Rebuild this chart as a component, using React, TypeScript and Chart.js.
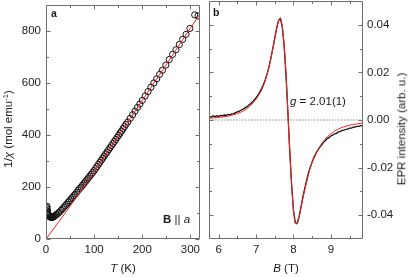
import React, { useEffect, useRef } from "react";
import { Chart, registerables } from "chart.js";
Chart.register(...registerables);

// ---------- Panel a: inverse susceptibility ----------
const tempK = [1.8, 2.0, 2.3, 2.7, 3.2, 3.8, 4.5, 5.3, 6.2, 7.2, 8.3, 9.5, 10.8, 12.2, 13.7, 15.3, 17, 19, 21, 23, 25.5, 28, 31, 34, 37, 40, 43, 46, 49, 52, 55, 58, 61, 64, 67, 70, 73, 76, 79, 82, 85, 88, 91, 94, 97, 100, 103, 106, 109, 112, 115, 118, 121, 124, 127, 130, 133, 136, 139, 142, 145, 148, 151, 154, 157, 160, 163, 166, 170, 175, 180, 185, 190, 195, 200, 206, 212, 218, 224, 230, 236, 242, 249, 256, 263, 270, 277, 284, 291, 299, 309, 316];
const invChi = [126, 121, 115, 109, 104, 99, 95, 92, 89, 87, 85, 84, 83, 83, 84, 85, 87, 90, 93, 96, 100, 104, 110, 116, 122, 128, 134, 141, 147, 154, 160, 167, 173, 180, 187, 194, 200, 207, 214, 221, 228, 235, 242, 249, 256, 263, 271, 279, 287, 295, 303, 311, 319, 327, 335, 343, 351, 359, 367, 375, 383, 391, 399, 407, 415, 424, 432, 441, 450, 464, 478, 492, 506, 519, 533, 550, 567, 584, 600, 616, 633, 649, 669, 690, 710, 728, 748, 768, 787, 810, 862, 858];
const fitTempK = [0, 25, 50, 75, 100, 125, 150, 175, 200, 225, 250, 275, 300, 320];
const fitInvChi = [0, 62, 126, 191, 258, 326, 395, 464, 533, 602, 671, 741, 811, 866];
const tTicks = [0, 100, 200, 300];
const tMinorTicks = [50, 150, 250];
const invChiTicks = [0, 200, 400, 600, 800];
const invChiMinorTicks = [100, 300, 500, 700];

// ---------- Panel b: EPR spectrum ----------
const fieldT = [5.75, 5.8, 5.85, 5.9, 5.95, 6.0, 6.05, 6.1, 6.15, 6.2, 6.25, 6.3, 6.35, 6.4, 6.45, 6.5, 6.55, 6.6, 6.65, 6.7, 6.75, 6.8, 6.85, 6.9, 6.95, 7.0, 7.05, 7.1, 7.15, 7.2, 7.25, 7.3, 7.35, 7.4, 7.45, 7.5, 7.55, 7.6, 7.65, 7.7, 7.75, 7.8, 7.85, 7.9, 7.95, 8.0, 8.05, 8.1, 8.15, 8.2, 8.25, 8.3, 8.35, 8.4, 8.45, 8.5, 8.55, 8.6, 8.65, 8.7, 8.75, 8.8, 8.85, 8.9, 8.95, 9.0, 9.05, 9.1, 9.15, 9.2, 9.25, 9.3, 9.35, 9.4, 9.45, 9.5, 9.55, 9.6, 9.65, 9.7, 9.75, 9.8, 9.85];
const eprSignal = [0.0015, 0.0012, 0.0017, 0.0014, 0.0018, 0.0015, 0.0019, 0.0017, 0.0021, 0.0019, 0.0023, 0.0022, 0.0026, 0.0027, 0.0031, 0.0034, 0.0037, 0.0042, 0.0045, 0.0051, 0.0055, 0.0062, 0.0068, 0.0076, 0.0084, 0.0094, 0.0105, 0.0118, 0.0133, 0.015, 0.0171, 0.0197, 0.0227, 0.0263, 0.0303, 0.0345, 0.0385, 0.0418, 0.0426, 0.0391, 0.0311, 0.019, 0.0034, -0.013, -0.027, -0.038, -0.0432, -0.0434, -0.0407, -0.0366, -0.0324, -0.0288, -0.0255, -0.0222, -0.0198, -0.0176, -0.0157, -0.014, -0.0127, -0.0115, -0.0105, -0.0094, -0.0087, -0.0078, -0.0074, -0.0067, -0.0064, -0.0058, -0.0056, -0.005, -0.0049, -0.0044, -0.0043, -0.0039, -0.0038, -0.0034, -0.0034, -0.003, -0.003, -0.0027, -0.0027, -0.0024, -0.0024];
const fitFieldT = [5.74, 5.9, 6.1, 6.3, 6.5, 6.7, 6.85, 7.0, 7.1, 7.2, 7.3, 7.4, 7.48, 7.55, 7.6, 7.63, 7.66, 7.7, 7.75, 7.8, 7.85, 7.9, 7.95, 8.0, 8.04, 8.08, 8.12, 8.18, 8.25, 8.35, 8.45, 8.55, 8.7, 8.85, 9.0, 9.2, 9.4, 9.6, 9.86];
const fitEpr = [0.0007, 0.0009, 0.0013, 0.0018, 0.0027, 0.0042, 0.006, 0.0088, 0.0112, 0.0146, 0.0195, 0.0262, 0.0328, 0.0385, 0.0416, 0.0427, 0.0423, 0.0393, 0.0313, 0.0192, 0.0035, -0.0128, -0.0268, -0.0378, -0.0428, -0.0438, -0.0425, -0.0385, -0.033, -0.0262, -0.02, -0.016, -0.0113, -0.008, -0.0058, -0.0038, -0.0026, -0.0019, -0.0012];
const bTicks = [6, 7, 8, 9];
const bMinorTicks = [6.5, 7.5, 8.5, 9.5];
const eprTicks = [-0.04, -0.02, 0, 0.02, 0.04];
const eprMinorTicks = [-0.03, -0.01, 0.01, 0.03];

const FONT = "'Liberation Sans', Arial, Helvetica, sans-serif";
const FRAME = "#6e6e6e";

const framePlugin = {
  id: "frameTicks",
  afterDatasetsDraw(chart: any, _args: any, opts: any) {
    const { ctx, chartArea, scales } = chart;
    const { left, right, top, bottom } = chartArea;
    const xs = scales.x;
    const ys = scales.y;
    const L = Math.round(left) + 0.5;
    const R = Math.round(right) - 0.5;
    const T = Math.round(top) + 0.5;
    const B = Math.round(bottom) - 0.5;
    ctx.save();
    ctx.strokeStyle = FRAME;
    ctx.lineWidth = 1;
    ctx.beginPath();
    ctx.rect(L, T, R - L, B - T);
    const drawX = (vals: number[], len: number) => {
      vals.forEach((v) => {
        const px = Math.round(xs.getPixelForValue(v)) + 0.5;
        ctx.moveTo(px, B);
        ctx.lineTo(px, B - len);
        ctx.moveTo(px, T);
        ctx.lineTo(px, T + len);
      });
    };
    const drawY = (vals: number[], len: number) => {
      vals.forEach((v) => {
        const py = Math.round(ys.getPixelForValue(v)) + 0.5;
        ctx.moveTo(L, py);
        ctx.lineTo(L + len, py);
        ctx.moveTo(R, py);
        ctx.lineTo(R - len, py);
      });
    };
    drawX(opts.xMajor, 4);
    drawX(opts.xMinor, 2.5);
    drawY(opts.yMajor, 4);
    drawY(opts.yMinor, 2.5);
    ctx.stroke();
    ctx.restore();
  },
};

const tickFont = { family: FONT, size: 11.5 };

const zeroPad = (s: any) => {
  s.paddingTop = 0;
  s.paddingBottom = 0;
  s.paddingLeft = 0;
  s.paddingRight = 0;
};

function PanelA() {
  const ref = useRef<HTMLCanvasElement>(null);
  useEffect(() => {
    if (!ref.current) return;
    const chart = new Chart(ref.current, {
      type: "scatter",
      data: {
        datasets: [
          {
            label: "fit",
            data: fitTempK.map((t, i) => ({ x: t, y: fitInvChi[i] })),
            showLine: true,
            borderColor: "#ff2020",
            borderWidth: 1,
            pointRadius: 0,
            cubicInterpolationMode: "monotone",
            order: 0,
          },
          {
            label: "data",
            data: tempK.map((t, i) => ({ x: t, y: invChi[i] })),
            showLine: false,
            pointStyle: "circle",
            pointRadius: 3.1,
            pointBorderWidth: 1,
            pointBorderColor: "#111",
            pointBackgroundColor: "rgba(0,0,0,0)",
            order: 1,
          },
        ],
      },
      options: {
        responsive: false,
        animation: false,
        events: [],
        layout: { padding: { top: 1, right: 5, left: 0, bottom: 0 } },
        plugins: {
          legend: { display: false },
          tooltip: { enabled: false },
          frameTicks: { xMajor: tTicks, xMinor: tMinorTicks, yMajor: invChiTicks, yMinor: invChiMinorTicks },
        } as any,
        scales: {
          x: {
            type: "linear",
            min: 0,
            max: 320,
            grid: { display: false, drawTicks: false, tickLength: 0 },
            border: { display: false },
            ticks: { font: tickFont, color: "#222", padding: 4, maxRotation: 0 },
            afterBuildTicks: (s: any) => { s.ticks = tTicks.map((v) => ({ value: v })); },
            afterFit: (s: any) => { s.height = 38; zeroPad(s); },
          },
          y: {
            type: "linear",
            min: 0,
            max: 900,
            grid: { display: false, drawTicks: false, tickLength: 0 },
            border: { display: false },
            ticks: { font: tickFont, color: "#222", padding: 5 },
            afterBuildTicks: (s: any) => { s.ticks = invChiTicks.map((v) => ({ value: v })); },
            afterFit: (s: any) => { s.width = 46; zeroPad(s); },
          },
        },
      },
      plugins: [framePlugin],
    });
    return () => chart.destroy();
  }, []);
  return <canvas ref={ref} width={205} height={277} style={{ position: "absolute", left: 0, top: 0 }} />;
}

function PanelB() {
  const ref = useRef<HTMLCanvasElement>(null);
  useEffect(() => {
    if (!ref.current) return;
    const chart = new Chart(ref.current, {
      type: "scatter",
      data: {
        datasets: [
          {
            label: "zero",
            data: [{ x: 5.74, y: 0 }, { x: 9.86, y: 0 }],
            showLine: true,
            borderColor: "#8a8a8a",
            borderWidth: 1,
            borderDash: [1.5, 1.5],
            pointRadius: 0,
            order: 3,
          },
          {
            label: "data",
            data: fieldT.map((b, i) => ({ x: b, y: eprSignal[i] })),
            showLine: true,
            borderColor: "#111",
            borderWidth: 1.3,
            pointRadius: 0,
            order: 2,
          },
          {
            label: "fit",
            data: fitFieldT.map((b, i) => ({ x: b, y: fitEpr[i] })),
            showLine: true,
            borderColor: "#ff2020",
            borderWidth: 1,
            pointRadius: 0,
            cubicInterpolationMode: "monotone",
            order: 1,
          },
        ],
      },
      options: {
        responsive: false,
        animation: false,
        events: [],
        layout: { padding: { top: 1, right: 0, left: 4, bottom: 0 } },
        plugins: {
          legend: { display: false },
          tooltip: { enabled: false },
          frameTicks: { xMajor: bTicks, xMinor: bMinorTicks, yMajor: eprTicks, yMinor: eprMinorTicks },
        } as any,
        scales: {
          x: {
            type: "linear",
            min: 5.74,
            max: 9.86,
            grid: { display: false, drawTicks: false, tickLength: 0 },
            border: { display: false },
            ticks: { font: tickFont, color: "#222", padding: 4, maxRotation: 0 },
            afterBuildTicks: (s: any) => { s.ticks = bTicks.map((v) => ({ value: v })); },
            afterFit: (s: any) => { s.height = 38; zeroPad(s); },
          },
          y: {
            type: "linear",
            position: "right",
            min: -0.05,
            max: 0.05,
            grid: { display: false, drawTicks: false, tickLength: 0 },
            border: { display: false },
            ticks: {
              font: tickFont,
              color: "#222",
              padding: 4,
              callback: (v: any) => Number(v).toFixed(2),
            },
            afterBuildTicks: (s: any) => { s.ticks = eprTicks.map((v) => ({ value: v })); },
            afterFit: (s: any) => { s.width = 52; zeroPad(s); },
          },
        },
      },
      plugins: [framePlugin],
    });
    return () => chart.destroy();
  }, []);
  return <canvas ref={ref} width={210} height={277} style={{ position: "absolute", left: 205, top: 0 }} />;
}

const txt: React.CSSProperties = {
  position: "absolute",
  fontFamily: FONT,
  fontSize: 11.5,
  lineHeight: 1,
  color: "#1a1a1a",
  whiteSpace: "nowrap",
};

export default function App() {
  return (
    <div style={{ position: "absolute", left: 0, top: 0, width: 415, height: 277, background: "#fff", overflow: "hidden" }}>
      <PanelA />
      <PanelB />
      <div style={{ ...txt, left: 8.5, top: 129, transform: "translate(-50%, -50%) rotate(-90deg)" }}>
        1/<i>χ</i> (mol emu<sup style={{ fontSize: 7.5, verticalAlign: 4, lineHeight: 0 }}>-1</sup>)
      </div>
      <div style={{ ...txt, left: 123, top: 269, transform: "translate(-50%, -50%)" }}>
        <i>T</i> (K)
      </div>
      <div style={{ ...txt, left: 286, top: 269, transform: "translate(-50%, -50%)" }}>
        <i>B</i> (T)
      </div>
      <div style={{ ...txt, left: 401.5, top: 129, transform: "translate(-50%, -50%) rotate(-90deg)" }}>
        EPR intensity (arb. u.)
      </div>
      <div style={{ ...txt, left: 51, top: 12.5, fontSize: 10.5, fontWeight: "bold", transform: "translateY(-50%)" }}>a</div>
      <div style={{ ...txt, left: 213, top: 12, fontSize: 10.5, fontWeight: "bold", transform: "translateY(-50%)" }}>b</div>
      <div style={{ ...txt, left: 163, top: 220, transform: "translateY(-50%)" }}>
        <b>B</b> || <i>a</i>
      </div>
      <div style={{ ...txt, left: 290, top: 102, transform: "translateY(-50%)" }}>
        <i>g</i> = 2.01(1)
      </div>
    </div>
  );
}
